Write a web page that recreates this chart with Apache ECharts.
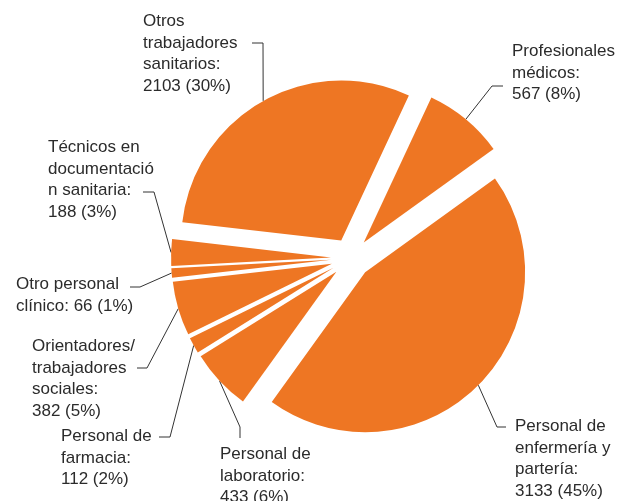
<!DOCTYPE html>
<html>
<head>
<meta charset="utf-8">
<script src="https://cdn.jsdelivr.net/npm/echarts@6/dist/echarts.min.js"></script>
<style>
  html, body { margin: 0; padding: 0; background: #fff; }
  #chart { width: 618px; height: 501px; }
</style>
</head>
<body>
<div id="chart"></div>
<script>
const names = ['Profesionales médicos', 'Personal de enfermería y partería', 'Personal de laboratorio', 'Personal de farmacia',
  'Orientadores/trabajadores sociales', 'Otro personal clínico', 'Técnicos en documentación sanitaria', 'Otros trabajadores sanitarios']
const values = [567, 3133, 433, 112, 382, 66, 188, 2103]
// wrapped label text as printed, before the value
const labelHeads = ['Profesionales\nmédicos:\n', 'Personal de\nenfermería y\npartería:\n', 'Personal de\nlaboratorio:\n', 'Personal de\nfarmacia:\n',
  'Orientadores/\ntrabajadores\nsociales:\n', 'Otro personal\nclínico: ', 'Técnicos en\ndocumentació\nn sanitaria:\n', 'Otros\ntrabajadores\nsanitarios:\n']

// label box (top-left) and the leader's elbow / end next to it
const labelPos = [
  { x: 512, y: 41, elbow: [492, 86], tip: [503, 86] },
  { x: 515, y: 416, elbow: [497, 427], tip: [506, 427] },
  { x: 220, y: 444, elbow: [240, 427], tip: [240, 438] },
  { x: 61, y: 426, elbow: [170, 437], tip: [159, 437] },
  { x: 32, y: 336, elbow: [147, 368], tip: [137, 368] },
  { x: 16, y: 274, elbow: [140, 287], tip: [130, 287] },
  { x: 48, y: 137, elbow: [154, 192], tip: [143, 192] },
  { x: 143, y: 11, elbow: [263, 43], tip: [252, 43] },
]

const ORANGE = '#ee7623'
const CENTER = [351, 258]
const R = 160
const OFFSET = 20
const chart = echarts.init(document.getElementById('chart'))

const common = {
  type: 'pie',
  center: CENTER,
  startAngle: 65,
  clockwise: true,
  avoidLabelOverlap: false,
  emphasis: { disabled: true },
}

chart.setOption({
  animation: false,
  series: [{
    ...common,
    radius: R,
    selectedMode: 'multiple',
    selectedOffset: OFFSET,
    itemStyle: { color: ORANGE },
    select: { itemStyle: { color: ORANGE, borderWidth: 0 } },
    label: { show: false },
    labelLine: { show: false },
    data: names.map((n, i) => ({ name: n, value: values[i], selected: true })),
  }, {
    // invisible ring at the exploded rim, only carries the labels
    ...common,
    radius: R + OFFSET,
    silent: true,
    percentPrecision: 0,
    itemStyle: { color: 'rgba(0,0,0,0)' },
    label: {
      show: true,
      position: 'outside',
      fontFamily: 'Liberation Sans, Arial, sans-serif',
      fontSize: 17,
      lineHeight: 21.5,
      color: '#2b2b2b',
      formatter: p => labelHeads[p.dataIndex] + p.value + ' (' + p.percent + '%)',
    },
    labelLine: { show: true, lineStyle: { color: '#333', width: 1 } },
    labelLayout: p => {
      const L = labelPos[p.dataIndex]
      const out = { x: L.x, y: L.y, align: 'left', verticalAlign: 'top' }
      if (p.labelLinePoints) out.labelLinePoints = [p.labelLinePoints[0], L.elbow, L.tip]
      return out
    },
    data: names.map((n, i) => ({ name: n, value: values[i] })),
  }],
})
</script>
</body>
</html>
